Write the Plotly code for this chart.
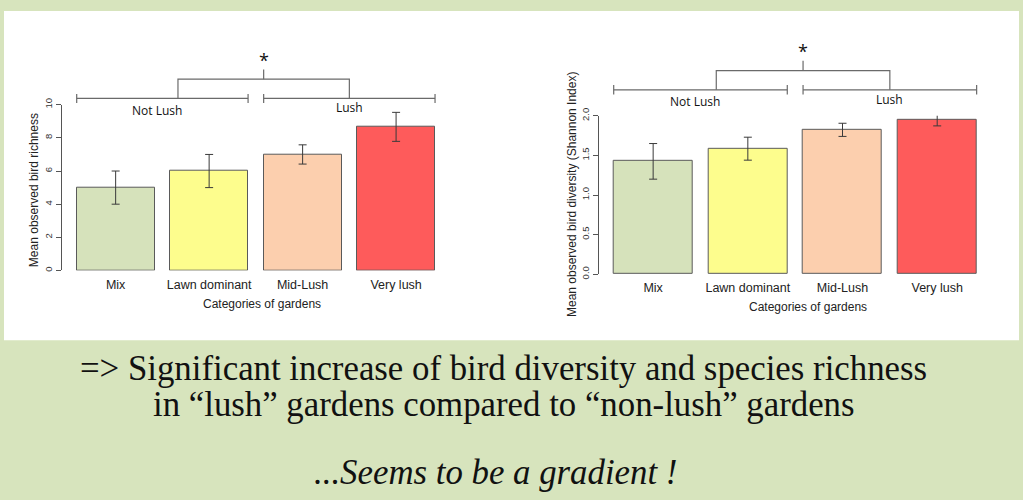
import plotly.graph_objects as go

# ---------------- data ----------------
categories = ["Mix", "Lawn dominant", "Mid-Lush", "Very lush"]
bar_pos = [0.7, 1.9, 3.1, 4.3]           # R barplot default centres
colors = ["#d6e2bb", "#fdfd8d", "#fccfae", "#fe5b5b"]

richness = [5.0, 6.0, 7.0, 8.66]
richness_hi = [6.0, 7.0, 7.58, 9.54]
richness_lo = [4.0, 5.0, 6.42, 7.79]

diversity = [1.427, 1.58, 1.82, 1.947]
diversity_hi = [1.65, 1.73, 1.906, 2.02]
diversity_lo = [1.20, 1.44, 1.74, 1.873]

# group brackets (x extents in bar units)
notlush_span = [0.2, 2.4]
lush_span = [2.6, 4.8]
link_span = [1.5, 3.7]
link_mid = 2.6
# bracket heights in each chart's units: lower, upper, top tick, star, group label
left_levels = [10.38, 11.54, 12.13, 12.70, 9.67]
right_levels = [2.328, 2.571, 2.694, 2.82, 2.175]

W, H = 1023, 500


def px(v):
    return v / W


def py(v):
    return 1 - v / H


fig = go.Figure()

AXC = "#555555"


def add_chart(vals, hi, lo, xa, ya, xa_o, ya_o, levels, tick_half, lush_dy):
    fig.add_trace(go.Bar(
        x=bar_pos, y=vals, width=1.0,
        marker=dict(color=colors, line=dict(color="#5a5a5a", width=1)),
        error_y=dict(type="data", symmetric=False,
                     array=[h - v for h, v in zip(hi, vals)],
                     arrayminus=[v - l for v, l in zip(vals, lo)],
                     color="#3a3a3a", thickness=1, width=4),
        xaxis=xa, yaxis=ya, showlegend=False, hoverinfo="skip"))
    lower, upper, top, star, lab = levels
    xs, ys = [], []
    for a, b in (notlush_span, lush_span):
        xs += [a, b, None, a, a, None, b, b, None]
        ys += [lower, lower, None, lower - tick_half, lower + tick_half, None,
               lower - tick_half, lower + tick_half, None]
    a, b = link_span
    xs += [a, a, b, b, None, link_mid, link_mid]
    ys += [lower, upper, upper, lower, None, upper, top]
    fig.add_trace(go.Scatter(x=xs, y=ys, mode="lines",
                             line=dict(color="#6a6a6a", width=1.2),
                             xaxis=xa_o, yaxis=ya_o, showlegend=False,
                             hoverinfo="skip"))
    fig.add_annotation(x=link_mid, y=star, xref=xa_o, yref=ya_o, text="*",
                       showarrow=False, font=dict(size=18, color="#111"),
                       xanchor="center", yanchor="middle")
    fig.add_annotation(x=(bar_pos[0] + bar_pos[1]) / 2 - 0.07, y=lab, xref=xa_o, yref=ya_o,
                       text="Not Lush", showarrow=False,
                       xanchor="center", yanchor="middle",
                       font=dict(size=12, color="#111"))
    fig.add_annotation(x=(bar_pos[2] + bar_pos[3]) / 2, y=lab + lush_dy,
                       xref=xa_o, yref=ya_o, xanchor="center", yanchor="middle",
                       text="Lush", showarrow=False,
                       font=dict(size=12, color="#111"))


add_chart(richness, richness_hi, richness_lo, "x", "y", "x3", "y3", left_levels, 0.27, 0.17)
add_chart(diversity, diversity_hi, diversity_lo, "x2", "y2", "x4", "y4", right_levels, 0.06, 0.03)

# ---------------- axes ----------------
L_x0, L_unit = 76.7, 77.9      # px of x=0.2, px per unit
L_dom = [62, 445]
L_xr = [0.2 - (L_x0 - L_dom[0]) / L_unit, 0.2 + (L_dom[1] - L_x0) / L_unit]
L_y0, L_y10 = 269.5, 99.3
L_yu = (L_y0 - L_y10) / 10
R_x0, R_unit = 613.7, 78.9
R_dom = [598.7, 990]
R_xr = [0.2 - (R_x0 - R_dom[0]) / R_unit, 0.2 + (R_dom[1] - R_x0) / R_unit]
R_y0, R_y2 = 273.3, 110.7
R_yu = (R_y0 - R_y2) / 2
TOP = 30

xcommon = dict(showline=False, showgrid=False, zeroline=False, ticks="",
               tickvals=bar_pos, ticktext=categories,
               tickfont=dict(family="Liberation Sans, Arial", size=12.5, color="#222"))
ycommon = dict(showline=True, linecolor=AXC, linewidth=1, showgrid=False,
               zeroline=False, ticks="outside", ticklen=5, tickwidth=1,
               tickcolor=AXC, tickangle=-90,
               tickfont=dict(family="Liberation Sans, Arial", size=9.5, color="#333"))

fig.update_layout(
    xaxis=dict(domain=[px(L_dom[0]), px(L_dom[1])], range=L_xr, anchor="y",
               ticklabelstandoff=5, **xcommon),
    yaxis=dict(domain=[py(L_y0), py(L_y10)], range=[0, 10], anchor="x",
               tickvals=[0, 2, 4, 6, 8, 10], **ycommon),
    xaxis2=dict(domain=[px(R_dom[0]), px(R_dom[1])], range=R_xr, anchor="y2",
                ticklabelstandoff=4, **xcommon),
    yaxis2=dict(domain=[py(R_y0), py(R_y2)], range=[0, 2], anchor="x2",
                tickvals=[0, 0.5, 1, 1.5, 2], tickformat=".1f", **ycommon),
    xaxis3=dict(domain=[px(L_dom[0]), px(L_dom[1])], range=L_xr, anchor="y3", visible=False),
    yaxis3=dict(domain=[py(L_y0), py(TOP)], range=[0, (L_y0 - TOP) / L_yu], anchor="x3", visible=False),
    xaxis4=dict(domain=[px(R_dom[0]), px(R_dom[1])], range=R_xr, anchor="y4", visible=False),
    yaxis4=dict(domain=[py(R_y0), py(TOP)], range=[0, (R_y0 - TOP) / R_yu], anchor="x4", visible=False),
)

# axis titles
tfont = dict(family="Liberation Sans, Arial", size=12, color="#222")


def note(x, y, text, font, **kw):
    fig.add_annotation(x=px(x), y=py(y), xref="paper", yref="paper", text=text,
                       showarrow=False, font=font, xanchor="center",
                       yanchor="middle", **kw)


note(34, 187, "Mean observed bird richness", tfont, textangle=-90)
note(572, 192, "Mean observed bird diversity (Shannon Index)", tfont, textangle=-90)
note(262, 304, "Categories of gardens", tfont)
note(808, 306.5, "Categories of gardens", tfont)

# bottom message
sfont = dict(family="Liberation Serif, Times New Roman, serif", size=34.8, color="#111")
note(503, 370, "=> Significant increase of bird diversity and species richness", sfont)
note(504, 407, "in \u201clush\u201d gardens compared to \u201cnon-lush\u201d gardens", sfont)
note(495, 477, "<i>...Seems to be a gradient !</i>", sfont)

# white panel
fig.add_shape(type="rect", xref="paper", yref="paper", x0=px(4), x1=px(1019),
              y0=py(341), y1=py(3), fillcolor="white", line=dict(width=0), layer="below")

fig.update_layout(width=W, height=H, margin=dict(l=0, r=0, t=0, b=0),
                  paper_bgcolor="#d7e4bd", plot_bgcolor="rgba(0,0,0,0)",
                  bargap=0, showlegend=False)

fig.write_html("out.html")
